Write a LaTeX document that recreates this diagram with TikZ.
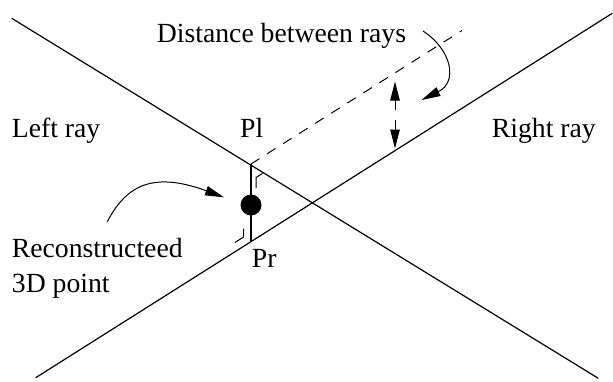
\documentclass[tikz,border=0pt]{standalone}
\usepackage{fontspec}
\setmainfont{Liberation Serif}
\usetikzlibrary{arrows.meta}
\begin{document}
\begin{tikzpicture}[x=1pt,y=-1pt,
  ray/.style={line width=1.2pt},
  lbl/.style={anchor=base west,inner sep=0pt,font=\fontsize{27.7}{33}\selectfont},
  pointer/.style={line width=1pt,-{Triangle[length=19pt,width=9.5pt]}},
  marker/.style={line width=1pt}]
\useasboundingbox (0,0) rectangle (613,381);
% coordinates
\coordinate (L1a) at (11.7,18.3);
\coordinate (L1b) at (598.3,378.3);
\coordinate (L2a) at (35.7,377.7);
\coordinate (L2b) at (612.3,13.3);
\coordinate (Pl) at (251,164);
\coordinate (Pr) at (251,241.6);
\coordinate (dashend) at (462,30.5);
\coordinate (P3) at (251,205);
% rays
\draw[ray] (L1a) -- (L1b);
\draw[ray] (L2a) -- (L2b);
% dashed parallel
\draw[line width=1pt,dash pattern=on 10pt off 9pt] (Pl) -- (dashend);
% common perpendicular
\draw[line width=2.4pt] (Pl) -- (Pr);
\fill (P3) circle (10.5);
% right-angle markers
\coordinate (m1) at (256,177.5);
\draw[marker] (256,188) -- (m1) -- (262.5,173.4);
\coordinate (m2) at (243.5,237);
\draw[marker] (243.5,228.5) -- (m2) -- (235,242.4);
% double arrow
\coordinate (da1) at (395,110);
\coordinate (da1t) at (395,81.5);
\coordinate (da2) at (395,120);
\coordinate (da2t) at (395,148.5);
\draw[pointer] (da1) -- (da1t);
\draw[pointer] (da2) -- (da2t);
% labels
\node[lbl] (dist) at (156.7,42.5) {Distance between rays};
\node[lbl] (left) at (11.7,137.5) {Left ray};
\node[lbl] (right) at (491.7,137.5) {Right ray};
\node[lbl] (pl) at (240,137.5) {Pl};
\node[lbl] (pr) at (251.7,267) {Pr};
\node[lbl] (rec) at (11.7,257) {Reconstructeed};
\node[lbl] (pt3) at (11.7,292.5) {3D point};
% curved pointers
\coordinate (c1s) at (423,31);
\coordinate (c1e) at (421.5,100);
\draw[pointer] (c1s) .. controls (452,50) and (458,82) .. (c1e);
\coordinate (c2s) at (107.3,221.7);
\coordinate (c2e) at (224,197.3);
\draw[pointer] (c2s) .. controls (125,188) and (150,170) .. (c2e);
\end{tikzpicture}
\end{document}
